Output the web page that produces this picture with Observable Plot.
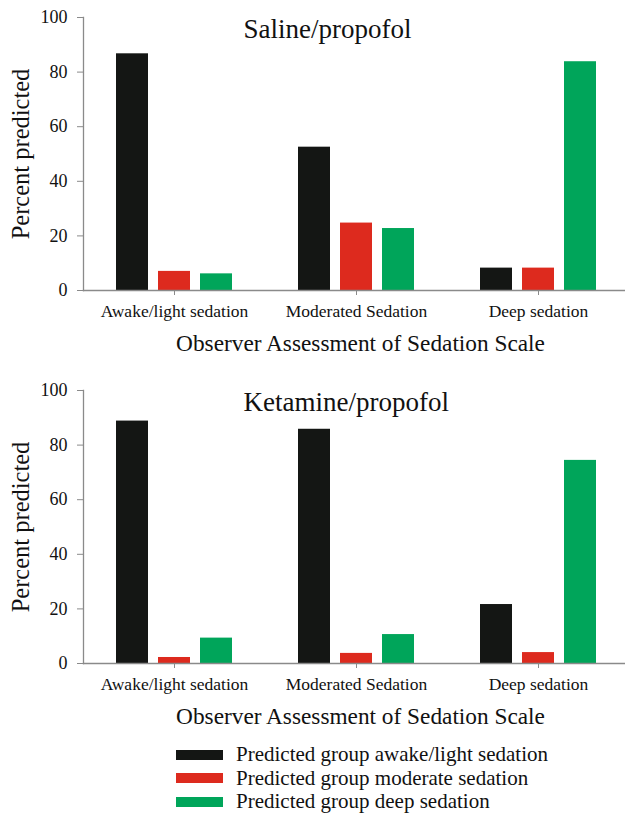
<!DOCTYPE html>
<html><head><meta charset="utf-8">
<script src="https://cdn.jsdelivr.net/npm/d3@7"></script>
<script src="https://cdn.jsdelivr.net/npm/@observablehq/plot@0.6"></script>
<style>
html,body{margin:0;padding:0;background:#fff;}
body{width:625px;height:815px;overflow:hidden;font-family:"Liberation Serif","DejaVu Serif",serif;color:#111;}
svg{display:block;}
#legend{padding-left:176px;margin-top:-3px;}
.row{display:flex;align-items:center;height:23.5px;font-size:21px;line-height:23.5px;white-space:nowrap;}
.sw{width:47px;height:10px;margin-right:13px;flex:none;}
</style></head><body>
<div id="charts"></div>
<div id="legend"></div>
<script>
const groups = ["Awake/light sedation", "Moderated Sedation", "Deep sedation"];
const series = ["Predicted group awake/light sedation", "Predicted group moderate sedation", "Predicted group deep sedation"];
const colors = ["#141614", "#dd2a1e", "#00a55a"];
const yTicks = [0, 20, 40, 60, 80, 100];
const titles = ["Saline/propofol", "Ketamine/propofol"];
const xTitle = "Observer Assessment of Sedation Scale";
const yTitle = "Percent predicted";

// values per predicted group, in order of groups
const salineAwake = [86.7, 52.5, 8.2];
const salineModerate = [7.0, 24.7, 8.2];
const salineDeep = [6.1, 22.7, 83.8];
const ketamineAwake = [88.8, 85.8, 21.6];
const ketamineModerate = [2.2, 3.7, 4.0];
const ketamineDeep = [9.3, 10.6, 74.4];

const FONT = "Liberation Serif, DejaVu Serif, serif";

function chart(title, vals) {
  const data = [];
  groups.forEach((g, i) => series.forEach((s, j) => data.push({group: g, series: s, value: vals[j][i]})));
  return Plot.plot({
    width: 625, height: 373,
    marginTop: 17, marginLeft: 82, marginRight: -5, marginBottom: 83,
    style: {fontFamily: FONT, fontSize: "18px", background: "white", color: "#111"},
    fx: {domain: groups, paddingInner: 0, paddingOuter: 0, label: null},
    x: {domain: series, paddingInner: 0.247, paddingOuter: 0.77, axis: null},
    y: {domain: [0, 100], axis: null},
    color: {domain: series, range: colors},
    marks: [
      Plot.barY(data, {fx: "group", x: "series", y: "value", fill: "series"}),
      Plot.frame({anchor: "bottom", stroke: "#8a8a8a", strokeWidth: 1.3, facet: "super"}),
      Plot.frame({anchor: "left", stroke: "#8a8a8a", strokeWidth: 1.3, facet: "super"}),
      Plot.axisY({ticks: yTicks, tickSize: 6, tickPadding: 10, label: null, stroke: "#8a8a8a", fontSize: 18, anchor: "left"}),
      Plot.axisFx({anchor: "bottom", tickSize: 5, tickPadding: 9, label: null, stroke: "#8a8a8a", fontSize: 17.5}),
      Plot.text([title], {text: d => d, frameAnchor: "top-left", textAnchor: "start", lineAnchor: "middle", dx: 160, dy: 12, fontSize: 27, fontFamily: FONT, facet: "super"}),
      Plot.text([xTitle], {text: d => d, frameAnchor: "bottom", textAnchor: "middle", lineAnchor: "middle", dy: 53, dx: 4, fontSize: 23.3, fontFamily: FONT, facet: "super"}),
      Plot.text([yTitle], {text: d => d, frameAnchor: "left", textAnchor: "middle", lineAnchor: "middle", rotate: -90, dx: -62, fontSize: 24.5, fontFamily: FONT, facet: "super"})
    ]
  });
}

const host = document.getElementById("charts");
host.appendChild(chart(titles[0], [salineAwake, salineModerate, salineDeep]));
host.appendChild(chart(titles[1], [ketamineAwake, ketamineModerate, ketamineDeep]));

const legend = document.getElementById("legend");
series.forEach((s, i) => {
  const row = document.createElement("div");
  row.className = "row";
  const sw = document.createElement("div");
  sw.className = "sw";
  sw.style.background = colors[i];
  const t = document.createElement("span");
  t.textContent = s;
  row.appendChild(sw);
  row.appendChild(t);
  legend.appendChild(row);
});
</script>
</body></html>
